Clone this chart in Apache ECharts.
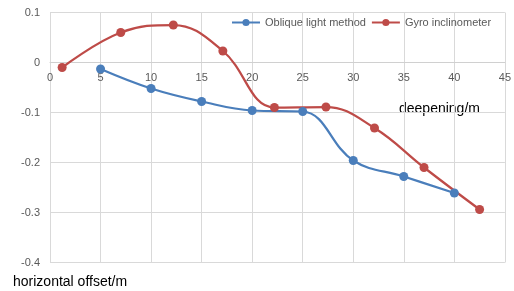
<!DOCTYPE html>
<html>
<head>
<meta charset="utf-8">
<script src="https://cdn.jsdelivr.net/npm/echarts@6/dist/echarts.min.js"></script>
<style>
  html, body { margin: 0; padding: 0; background: #fff; }
  #main { width: 514px; height: 291px; }
</style>
</head>
<body>
<div id="main"></div>
<script>
  // data
  var seriesNames = ['Oblique light method', 'Gyro inclinometer'];
  var obliqueX = [5, 10, 15, 20, 25, 30, 35, 40];
  var obliqueY = [-0.013, -0.052, -0.078, -0.096, -0.098, -0.196, -0.228, -0.261];
  var gyroX = [1.2, 7.0, 12.2, 17.1, 22.2, 27.3, 32.1, 37.0, 42.5];
  var gyroY = [-0.010, 0.060, 0.075, 0.023, -0.090, -0.089, -0.131, -0.210, -0.294];

  function pairs(xs, ys) {
    return xs.map(function (x, i) { return [x, ys[i]]; });
  }

  var font = 'Liberation Sans';
  var chart = echarts.init(document.getElementById('main'));

  // grid: top 12.5, height 250 -> y=0 sits 200px above the bottom edge
  chart.setOption({
    animation: false,
    textStyle: { fontFamily: font },
    grid: { left: 50, right: 9, top: 12.5, bottom: 28.5, containLabel: false },
    legend: {
      top: 17,
      left: 231,
      padding: 0,
      itemWidth: 28,
      itemHeight: 9,
      itemGap: 5,
      textStyle: { color: '#595959', fontSize: 11, fontFamily: font },
      data: seriesNames
    },
    xAxis: {
      type: 'value',
      min: 0, max: 45, interval: 5,
      position: 'bottom',
      offset: -200,
      axisLine: { onZero: false, lineStyle: { color: '#d0d0d0', width: 1 } },
      axisTick: { show: false },
      axisLabel: { color: '#595959', fontSize: 11, margin: 10 },
      splitLine: { show: true, lineStyle: { color: '#d9d9d9', width: 1 } }
    },
    yAxis: {
      type: 'value',
      min: -0.4, max: 0.1, interval: 0.1,
      axisLine: { show: true, onZero: false, lineStyle: { color: '#d9d9d9' } },
      axisTick: { show: false },
      axisLabel: { color: '#595959', fontSize: 11, margin: 10,
        formatter: function (v) { return +v.toFixed(1) + ''; } },
      splitLine: { show: true, lineStyle: { color: '#d9d9d9', width: 1 } }
    },
    graphic: [
      { type: 'text', left: 399, top: 102,
        style: { text: 'deepening/m', fill: '#000', font: '14px ' + font } },
      { type: 'text', left: 13, top: 275,
        style: { text: 'horizontal offset/m', fill: '#000', font: '14px ' + font } }
    ],
    series: [
      {
        name: seriesNames[0],
        type: 'line',
        smooth: 0.4,
        symbol: 'circle',
        symbolSize: 9,
        data: pairs(obliqueX, obliqueY),
        itemStyle: { color: '#4a7ebb' },
        lineStyle: { color: '#4a7ebb', width: 2.25 }
      },
      {
        name: seriesNames[1],
        type: 'line',
        smooth: 0.4,
        symbol: 'circle',
        symbolSize: 9,
        data: pairs(gyroX, gyroY),
        itemStyle: { color: '#be4b48' },
        lineStyle: { color: '#be4b48', width: 2.25 }
      }
    ]
  });
</script>
</body>
</html>
